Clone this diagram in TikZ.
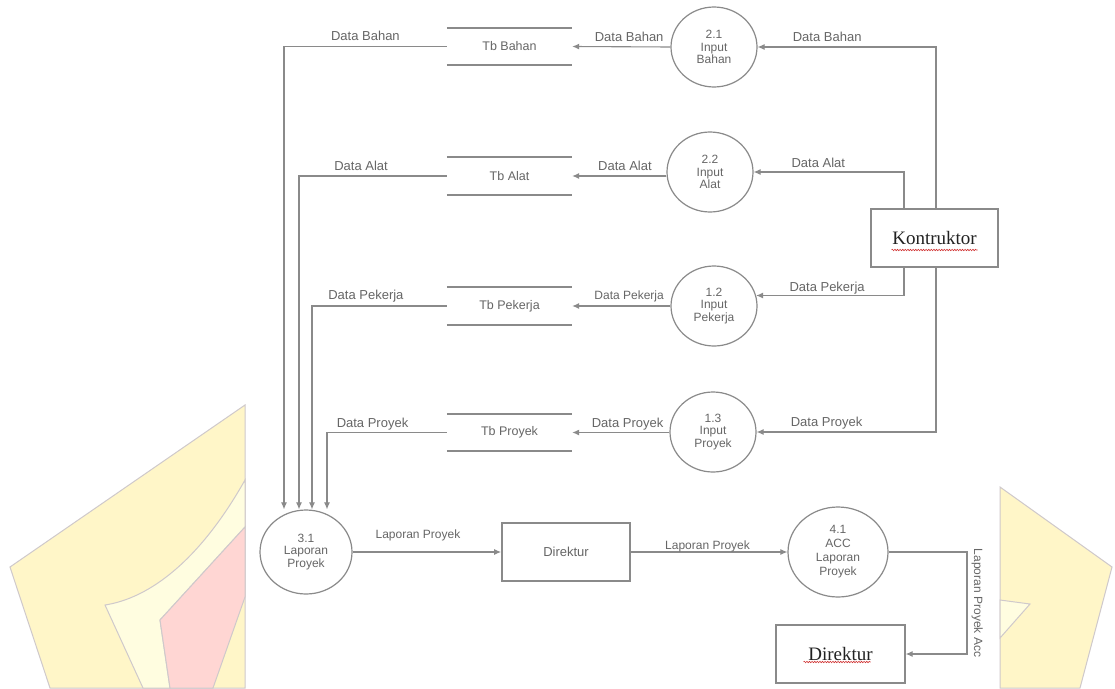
\documentclass[tikz,border=0pt]{standalone}
\usepackage{fontspec}
\setmainfont{Liberation Sans}
\newfontfamily\serifk{Liberation Serif}
\usetikzlibrary{shapes.geometric,arrows.meta,decorations.pathmorphing,calc}
\definecolor{lncol}{HTML}{8A8A8A}
\definecolor{txcol}{HTML}{666666}
\definecolor{dkcol}{HTML}{222222}
\definecolor{wmyel}{HTML}{FFF6C8}
\definecolor{wmlite}{HTML}{FFFDE0}
\definecolor{wmpink}{HTML}{FFD6D3}
\definecolor{wmedge}{HTML}{CFC9CB}
\definecolor{squig}{HTML}{D03030}
\begin{document}
\begin{tikzpicture}[x=1pt,y=-1pt,
  flow/.style={draw=lncol, line width=1.1pt, -{Latex[length=7pt,width=6pt]}},
  proc/.style={ellipse, draw=lncol, line width=1.2pt, minimum width=86pt, minimum height=80pt,
    inner sep=0pt, align=center, font=\fontsize{12}{12.5}\selectfont, text=txcol},
  store/.style={minimum width=125pt, minimum height=37pt, inner sep=0pt,
    font=\fontsize{12.5}{14}\selectfont, text=txcol},
  storeline/.style={draw=lncol, line width=1.7pt},
  lbl/.style={font=\fontsize{13}{15}\selectfont, text=txcol, inner sep=1pt},
  slbl/.style={font=\fontsize{12}{14}\selectfont, text=txcol, inner sep=1pt},
  ent/.style={draw=lncol, line width=1.3pt, inner sep=0pt, minimum width=128pt, minimum height=58pt},
  serifent/.style={ent, font=\serifk\fontsize{19}{21}\selectfont, text=dkcol},
  wavy/.style={draw=squig, line width=0.6pt, decorate, decoration={snake, amplitude=0.7pt, segment length=2.6pt}},
  wmline/.style={draw=wmedge, line width=1pt}
]
\useasboundingbox (0,0) rectangle (1115,688);
\fill[white] (0,0) rectangle (1115,688);
% watermark (left)
\filldraw[fill=wmyel, wmline] (245,405) -- (10,567) -- (50,688) -- (245,688) -- cycle;
\filldraw[fill=wmlite, wmline] (245,480) .. controls (200,560) and (150,598) .. (105,605)
   -- (143,688) -- (170,688) -- (160,620) -- (245,527) -- cycle;
\filldraw[fill=wmpink, wmline] (245,527) -- (160,620) -- (170,688) -- (213,688) -- (245,597) -- cycle;
% watermark (right)
\filldraw[fill=wmyel, wmline] (1000,487) -- (1112,567) -- (1080,688) -- (1000,688) -- cycle;
\filldraw[fill=wmlite, wmline] (1000,600) -- (1030,604) -- (1000,638) -- cycle;

% data stores
\node[store] (sb) at (509.5,46.5) {Tb Bahan};
\node[store] (sa) at (509.5,176) {Tb Alat};
\node[store] (sk) at (509.5,306) {Tb Pekerja};
\node[store] (sr) at (509.5,432.5) {Tb Proyek};
\foreach \s in {sb,sa,sk,sr}
  \draw[storeline] (\s.north west) -- (\s.north east) (\s.south west) -- (\s.south east);

% processes
\node[proc] (p21) at (714,47) {2.1\\Input\\Bahan};
\node[proc] (p22) at (710,172) {2.2\\Input\\Alat};
\node[proc] (p12) at (714,306) {1.2\\Input\\Pekerja};
\node[proc] (p13) at (713,432) {1.3\\Input\\Proyek};
\node[proc, minimum width=92pt, minimum height=84pt] (p31) at (306,552) {3.1\\Laporan\\Proyek};
\node[proc, minimum width=100pt, minimum height=90pt, font=\fontsize{12}{14}\selectfont] (p41) at (838,552) {4.1\\ACC\\Laporan\\Proyek};

% entities
\node[serifent, minimum width=127pt] (k) at (934.5,238) {Kontruktor};
\node[ent, line width=1.7pt, font=\fontsize{13}{15}\selectfont, text=txcol] (d1) at (566,552) {Direktur};
\node[serifent, minimum width=129pt] (d2) at (840.5,654) {Direktur};
\draw[wavy] ($(k.center)+(-43,12)$) -- ($(k.center)+(43,12)$);
\draw[wavy] ($(d2.center)+(-37,8)$) -- ($(d2.center)+(30,8)$);

% helper coordinates
\coordinate (xb) at (284,0);
\coordinate (xa) at (299,0);
\coordinate (xk) at (312,0);
\coordinate (xr) at (327,0);
\coordinate (ko) at (936,0);
\coordinate (ki) at (904,0);
\coordinate (accx) at (967,0);

% process -> store
\draw[flow] (p21.west) -- node[lbl, above=4pt, pos=0.42] {Data Bahan} (sb.east);
\draw[flow] (p22.west |- sa.east) -- node[lbl, above=4pt, pos=0.44] {Data Alat} (sa.east);
\draw[flow] (p12.west) -- node[slbl, above=2pt, pos=0.42] {Data Pekerja} (sk.east);
\draw[flow] (p13.west |- sr.east) -- node[lbl, above=1pt, pos=0.43] {Data Proyek} (sr.east);

% store -> 3.1
\draw[flow] (sb.west) -| node[lbl, above=4pt, pos=0.25] {Data Bahan} (p31.north -| xb);
\draw[flow] (sa.west) -| node[lbl, above=4pt, pos=0.29] {Data Alat} (p31.north -| xa);
\draw[flow] (sk.west) -| node[lbl, above=2pt, pos=0.30] {Data Pekerja} (p31.north -| xk);
\draw[flow] (sr.west) -| node[lbl, above=1pt, pos=0.31] {Data Proyek} (p31.north -| xr);

% Kontruktor -> inputs
\draw[flow] (k.north -| ko) |- node[lbl, above=4pt, pos=0.805] {Data Bahan} (p21.east);
\draw[flow] (k.north -| ki) |- node[lbl, above=3pt, pos=0.785] {Data Alat} (p22.east);
\draw[flow] (k.south -| ki) |- node[lbl, above=0pt, pos=0.76] {Data Pekerja} (p12.14);
\draw[flow] (k.south -| ko) |- node[lbl, above=1pt, pos=0.805] {Data Proyek} (p13.east);

% reports
\draw[flow] (p31.east) -- node[slbl, above=9pt, pos=0.44] {Laporan Proyek} (d1.west);
\draw[flow] (d1.east) -- node[slbl, above=-1.5pt, pos=0.49] {Laporan Proyek} (p41.west);
\draw[flow] (p41.east) -| node[slbl, rotate=-90, anchor=south, inner sep=4pt, pos=0.75] {Laporan Proyek Acc} (accx |- d2.east) -- (d2.east);
\end{tikzpicture}
\end{document}
